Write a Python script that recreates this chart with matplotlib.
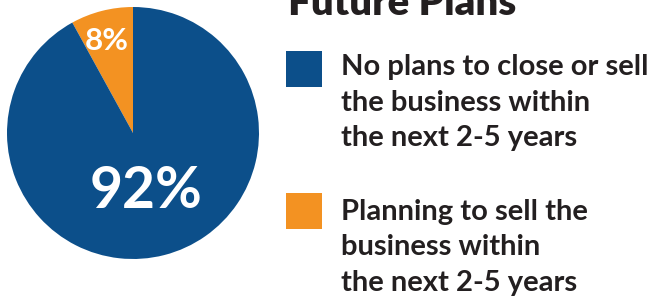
import matplotlib
matplotlib.use("Agg")
import matplotlib.pyplot as plt

# data
shares = [8, 92]
share_labels = ["8%", "92%"]
colors = ["#F39222", "#0C4F8A"]
title = "Future Plans"
legend_lines = [
    ["No plans to close or sell", "the business within", "the next 2-5 years"],
    ["Planning to sell the", "business within", "the next 2-5 years"],
]

W, H = 652, 296
fig = plt.figure(figsize=(W / 100, H / 100), dpi=100)
ax = fig.add_axes([0, 0, 1, 1])

# pie in pixel coordinates (y measured from the bottom)
cx, cy, r = 133, H - 133, 126
ax.pie(shares, colors=colors, startangle=90, counterclock=True,
       center=(cx, cy), radius=r, wedgeprops=dict(linewidth=0))
ax.set_xlim(0, W)
ax.set_ylim(0, H)
ax.set_aspect("equal")
ax.axis("off")

font = "Lato"
dark = "#231F20"

ax.text(107, H - 50, share_labels[0], color="white", fontsize=22.5, fontweight="bold",
        family=font, ha="center", va="baseline")
ax.text(146, H - 208, share_labels[1], color="white", fontsize=41, fontweight="bold",
        family=font, ha="center", va="baseline")

ax.text(288, H - 15, title, color=dark, fontsize=29, fontweight="heavy",
        family=font, ha="left", va="baseline")

square_tops = [51, 193]
first_baselines = [75.5, 220]
for i in range(2):
    ax.add_patch(plt.Rectangle((286, H - square_tops[i] - 36), 36, 36,
                               color=colors[::-1][i], linewidth=0))
    for j, line in enumerate(legend_lines[i]):
        ax.text(341, H - first_baselines[i] - j * 35.3, line, color=dark,
                fontsize=21, fontweight="bold", family=font,
                ha="left", va="baseline")

fig.savefig("out.png", dpi=100)
